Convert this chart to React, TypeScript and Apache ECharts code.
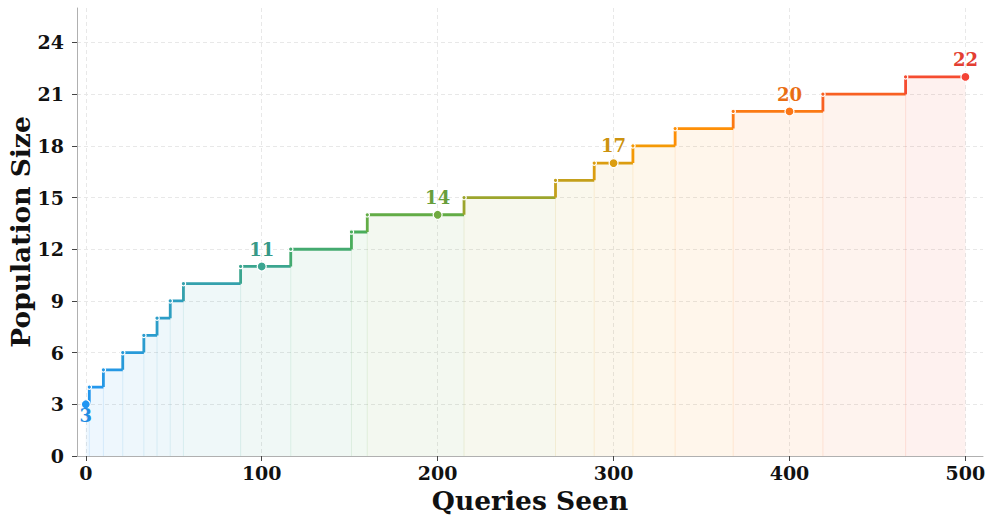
import React, { useEffect, useRef } from "react";
import * as echarts from "echarts";

// Step change points (x where population size increases) and the new size
const stepX = [0, 2, 10, 21, 33, 40.5, 48, 55.5, 88, 116.5, 151, 160, 215, 267, 289, 311, 335, 368, 419, 466];
const stepY = [3, 4, 5, 6, 7, 8, 9, 10, 11, 12, 13, 14, 15, 16, 17, 18, 19, 20, 21, 22];
const endX = 500;
// Highlighted checkpoints
const markX = [0, 100, 200, 300, 400, 500];
const markY = [3, 11, 14, 17, 20, 22];
const xTicks = [0, 100, 200, 300, 400, 500];
const yTicks = [0, 3, 6, 9, 12, 15, 18, 21, 24];
const yTitle = "Population Size";
const xTitle = "Queries Seen";

const stops = ["#2196F3", "#4CAF50", "#FF9800", "#F44336"];
function hex(c: string) {
  return [1, 3, 5].map((i) => parseInt(c.slice(i, i + 2), 16));
}
function colorAt(t: number, a = 1) {
  t = Math.max(0, Math.min(1, t));
  const seg = Math.min(stops.length - 2, Math.floor(t * (stops.length - 1)));
  const f = t * (stops.length - 1) - seg;
  const c0 = hex(stops[seg]);
  const c1 = hex(stops[seg + 1]);
  const c = c0.map((v, i) => Math.round(v + (c1[i] - v) * f));
  return `rgba(${c[0]},${c[1]},${c[2]},${a})`;
}
function darken(t: number, k: number) {
  const s = colorAt(t).match(/\d+/g)!.map(Number);
  return `rgb(${Math.round(s[0] * k)},${Math.round(s[1] * k)},${Math.round(s[2] * k)})`;
}

const FONT = "DejaVu Serif";

export default function App() {
  const ref = useRef<HTMLDivElement>(null);
  useEffect(() => {
    if (!ref.current) return;
    const chart = echarts.init(ref.current, null, { renderer: "svg" });
    const segData = stepX.map((x, i) => [
      x,
      i + 1 < stepX.length ? stepX[i + 1] : endX,
      stepY[i],
      i > 0 ? stepY[i - 1] : stepY[i],
      i,
    ]);
    const option: any = {
      animation: false,
      backgroundColor: "#ffffff",
      grid: {
        left: 77,
        right: 13,
        top: 8,
        bottom: 68,
        containLabel: false,
        outerBoundsMode: "none",
      },
      graphic: [
        {
          type: "text",
          x: 20,
          y: 232,
          rotation: Math.PI / 2,
          style: {
            text: yTitle,
            fontFamily: FONT,
            fontWeight: "bold",
            fontSize: 26.5,
            fill: "#111",
            align: "center",
            verticalAlign: "middle",
          },
        },
      ],
      xAxis: {
        type: "value",
        min: -5,
        max: 510,
        name: xTitle,
        nameLocation: "middle",
        nameGap: 30,
        nameTextStyle: { fontFamily: FONT, fontWeight: "bold", fontSize: 26.5, color: "#111" },
        axisLine: { show: true, onZero: false, lineStyle: { color: "#b0b0b0", width: 1 } },
        axisTick: { show: true, length: 5, lineStyle: { color: "#444" }, customValues: xTicks },
        axisLabel: {
          customValues: xTicks,
          fontFamily: FONT,
          fontWeight: "bold",
          fontSize: 19,
          color: "#111",
          margin: 7,
        },
        splitLine: { show: true, lineStyle: { color: "#e8e8e8", type: [4, 3], width: 1 } },
      },
      yAxis: {
        type: "value",
        min: 0,
        max: 26,
        axisLine: { show: true, onZero: false, lineStyle: { color: "#b0b0b0", width: 1 } },
        axisTick: { show: true, length: 5, lineStyle: { color: "#444" }, customValues: yTicks },
        axisLabel: {
          customValues: yTicks,
          fontFamily: FONT,
          fontWeight: "bold",
          fontSize: 19,
          color: "#111",
          margin: 13,
        },
        splitLine: { show: true, lineStyle: { color: "#e8e8e8", type: [4, 3], width: 1 } },
      },
      series: [
        {
          type: "custom",
          data: segData,
          clip: false,
          renderItem: (params: any, api: any) => {
            const x0 = api.value(0);
            const x1 = api.value(1);
            const y = api.value(2);
            const py = api.value(3);
            const idx = api.value(4);
            const t = (x0 + x1) / 2 / endX;
            const col = colorAt(t);
            const p0 = api.coord([x0, y]);
            const p1 = api.coord([x1, y]);
            const pb = api.coord([x0, 0]);
            const pp = api.coord([x0, py]);
            const children: any[] = [
              {
                type: "rect",
                shape: { x: p0[0], y: p0[1], width: p1[0] - p0[0], height: pb[1] - p0[1] },
                style: { fill: colorAt(t, 0.08) },
                silent: true,
              },
            ];
            if (idx > 0) {
              children.push({
                type: "line",
                shape: { x1: pb[0], y1: pb[1], x2: p0[0], y2: p0[1] },
                style: { stroke: colorAt(t, 0.12), lineWidth: 1 },
              });
            }
            children.push({
              type: "polyline",
              shape: { points: idx > 0 ? [pp, p0, p1] : [p0, p1] },
              style: { stroke: col, lineWidth: 2.8, fill: null, lineJoin: "miter" },
            });
            if (idx > 0) {
              children.push({
                type: "circle",
                shape: { cx: p0[0], cy: p0[1], r: 2.2 },
                style: { fill: col, stroke: "#ffffff", lineWidth: 1.2 },
              });
            }
            return { type: "group", children };
          },
          z: 2,
        },
        {
          type: "scatter",
          symbol: "circle",
          symbolSize: 9,
          z: 5,
          data: markX.map((x, i) => {
            const t = x / endX;
            const c = colorAt(t);
            return {
              value: [x, markY[i]],
              itemStyle: { color: c, borderColor: "#ffffff", borderWidth: 1.2, opacity: 1 },
              label: {
                show: true,
                formatter: String(markY[i]),
                position: i === 0 ? "bottom" : "top",
                distance: i === 0 ? -3 : 3,
                color: darken(t, 0.93),
                fontFamily: FONT,
                fontWeight: "bold",
                fontSize: 18,
              },
            };
          }),
        },
      ],
    };
    chart.setOption(option);
    return () => chart.dispose();
  }, []);
  return (
    <div
      ref={ref}
      style={{ position: "absolute", left: 0, top: 0, width: 996, height: 524 }}
    />
  );
}
